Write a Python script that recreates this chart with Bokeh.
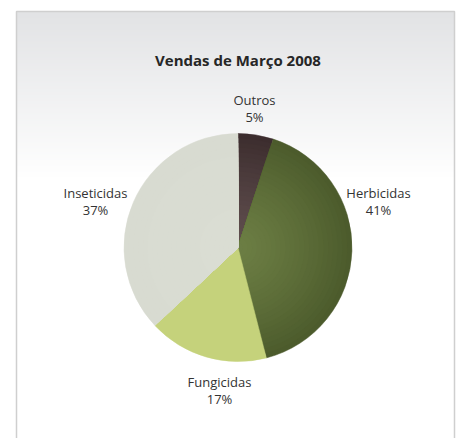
import numpy as np
from bokeh.plotting import figure
from bokeh.models import Range1d
from bokeh.core.properties import value
from bokeh.embed import file_html
from bokeh.resources import INLINE

# ---- data ----
categories = ["Outros", "Herbicidas", "Fungicidas", "Inseticidas"]
percents = [5, 41, 17, 37]
title_text = "Vendas de Março 2008"

# ---- styles / layout ----
W, H = 459, 438
FONT = "Open Sans"
inner_colors = {"Outros": (96, 78, 78), "Herbicidas": (108, 126, 68),
                "Fungicidas": (197, 210, 123), "Inseticidas": (218, 221, 211)}
outer_colors = {"Outros": (60, 45, 46), "Herbicidas": (76, 91, 44),
                "Fungicidas": (197, 210, 123), "Inseticidas": (216, 219, 209)}
label_pos = {"Outros": (254, 99), "Herbicidas": (378, 192),
             "Fungicidas": (219, 381), "Inseticidas": (95, 192)}
CX, CY, R = 237.5, 247, 114
FRAME_L, FRAME_T, FRAME_R = 16, 11, 454


def Y(y):
    return H - y


p = figure(width=W, height=H, output_backend="svg", toolbar_location=None,
           x_range=Range1d(0, W), y_range=Range1d(0, H),
           x_axis_type=None, y_axis_type=None, min_border=0)
p.grid.visible = False
p.outline_line_color = None
p.background_fill_color = "white"
p.border_fill_color = "white"

# background gradient inside frame
fw, fh = FRAME_R - FRAME_L, H - FRAME_T
img = np.zeros((fh, fw), dtype=np.uint32)
view = img.view(dtype=np.uint8).reshape((fh, fw, 4))
top = np.array([226, 227, 229], dtype=float)
for row in range(fh):
    ypix = FRAME_T + row
    t = min(1.0, max(0.0, (ypix - FRAME_T) / 165.0))
    c = top + (255 - top) * t
    r_img = fh - 1 - row  # image rows go bottom-up
    view[r_img, :, 0] = int(c[0])
    view[r_img, :, 1] = int(c[1])
    view[r_img, :, 2] = int(c[2])
    view[r_img, :, 3] = 255
p.image_rgba(image=[img], x=FRAME_L, y=0, dw=fw, dh=fh)

# frame border (open at bottom)
p.line(x=[FRAME_L, FRAME_L, FRAME_R, FRAME_R], y=[0, Y(FRAME_T), Y(FRAME_T), 0],
       line_color="#cfcfcf", line_width=1.5)

# title
p.text(x=[CX], y=[Y(59)], text=[title_text], text_font=value(FONT),
       text_font_style="bold", text_font_size="15px", text_color="#262626",
       text_align="center", text_baseline="middle")

# pie slices
total = float(sum(percents))
fr = np.array(percents) / total
cum = np.concatenate([[0], np.cumsum(fr)])
N = 24
for i, cat in enumerate(categories):
    a0 = np.pi / 2 - 2 * np.pi * cum[i]
    a1 = np.pi / 2 - 2 * np.pi * cum[i + 1]
    ci = np.array(inner_colors[cat], dtype=float)
    co = np.array(outer_colors[cat], dtype=float)
    if np.allclose(ci, co):
        col = "#%02x%02x%02x" % tuple(int(v) for v in ci)
        p.wedge(x=CX, y=Y(CY), radius=R, start_angle=a0, end_angle=a1,
                direction="clock", fill_color=col, line_color=col, line_width=0.5)
    else:
        for k in range(N, 0, -1):
            rr = R * k / N
            t = (k / N) ** 1.3
            c = ci + (co - ci) * t
            col = "#%02x%02x%02x" % tuple(int(round(v)) for v in c)
            p.wedge(x=CX, y=Y(CY), radius=rr, start_angle=a0, end_angle=a1,
                    direction="clock", fill_color=col, line_color=col, line_width=0.5)

# labels
for cat, pct in zip(categories, percents):
    lx, ly = label_pos[cat]
    p.text(x=[lx], y=[Y(ly)], text=[cat], text_font=value(FONT),
           text_font_size="13px", text_color="#333333",
           text_align="center", text_baseline="middle")
    p.text(x=[lx], y=[Y(ly + 17)], text=["%d%%" % pct], text_font=value(FONT),
           text_font_size="13px", text_color="#333333",
           text_align="center", text_baseline="middle")

open("out.html", "w").write(file_html(p, INLINE))
